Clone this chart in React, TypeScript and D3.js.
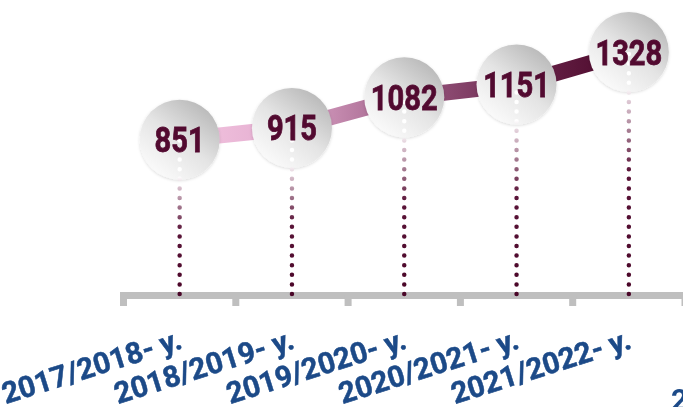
import React from "react";
import * as d3 from "d3";

const categories = ["2017/2018- y.", "2018/2019- y.", "2019/2020- y.", "2020/2021- y.", "2021/2022- y."];
const values = [851, 915, 1082, 1151, 1328];

const W = 683;
const H = 407;

export default function App() {
  const x = d3.scaleBand<string>().domain(categories).range([123.5, 685]).padding(0);
  const y = d3.scaleLinear().domain([0, 1328]).range([296, 52]);
  const r = 40;
  const axisY = 295.5;
  const cx = (c: string) => (x(c) as number) + x.bandwidth() / 2;
  const pts = categories.map((c, i) => [cx(c), y(values[i])] as [number, number]);
  const line = d3.line();
  const boundaries = categories.map((c) => x(c) as number).concat([(x(categories[categories.length - 1]) as number) + x.bandwidth()]);

  return (
    <div style={{ position: "fixed", left: 0, top: 0 }}>
      <svg width={W} height={H} style={{ display: "block" }}>
        <defs>
          <linearGradient id="lineGrad" gradientUnits="userSpaceOnUse" x1={pts[0][0]} y1={0} x2={pts[pts.length - 1][0]} y2={0}>
            <stop offset="0" stopColor="#f4c6e1" />
            <stop offset="0.22" stopColor="#e4aed0" />
            <stop offset="0.5" stopColor="#9e5e86" />
            <stop offset="0.75" stopColor="#6c284e" />
            <stop offset="1" stopColor="#4a0628" />
          </linearGradient>
          <linearGradient id="circGrad" x1="0.85" y1="0.1" x2="0.2" y2="0.95">
            <stop offset="0" stopColor="#b9b9b9" />
            <stop offset="0.5" stopColor="#e4e4e4" />
            <stop offset="1" stopColor="#fbfbfb" />
          </linearGradient>
          <filter id="shadow" x="-30%" y="-30%" width="160%" height="160%">
            <feDropShadow dx="0" dy="1" stdDeviation="1.5" floodColor="#000" floodOpacity="0.15" />
          </filter>
          {pts.map((p, i) => {
            const len = 294 - p[1];
            const w0 = r / len;
            return (
              <linearGradient key={i} id={`dotGrad${i}`} gradientUnits="userSpaceOnUse" x1={0} y1={p[1]} x2={0} y2={294}>
                <stop offset="0" stopColor="#ffffff" />
                <stop offset={w0 - 0.02} stopColor="#ffffff" />
                <stop offset={w0 + 0.04} stopColor="#dcc6d2" />
                <stop offset={Math.min(0.6, w0 + 0.33)} stopColor="#5a1438" />
                <stop offset="1" stopColor="#4a0628" />
              </linearGradient>
            );
          })}
        </defs>

        {/* axis */}
        <rect x={120} y={axisY - 3.5} width={W - 120} height={7} fill="#bfbfbf" />
        {boundaries.map((b, i) => (
          <rect key={i} x={b - 3.5} y={axisY} width={7} height={10.5} fill="#bfbfbf" />
        ))}

        {/* connecting line */}
        <path d={line(pts) as string} fill="none" stroke="url(#lineGrad)" strokeWidth={16} />

        {/* circles */}
        {pts.map((p, i) => (
          <circle key={i} cx={p[0]} cy={p[1]} r={r} fill="url(#circGrad)" filter="url(#shadow)" />
        ))}

        {/* dotted drop lines */}
        {pts.map((p, i) => (
          <line
            key={i}
            x1={p[0]}
            y1={294}
            x2={p[0]}
            y2={p[1]}
            stroke={`url(#dotGrad${i})`}
            strokeWidth={4.5}
            strokeLinecap="round"
            strokeDasharray="0 9.6"
          />
        ))}

        {/* value labels */}
        {pts.map((p, i) => {
          const t = String(values[i]);
          return (
            <text
              key={i}
              x={p[0]}
              y={p[1] + 12.5}
              textAnchor="middle"
              fontFamily="Roboto, sans-serif"
              fontWeight={700}
              fontSize={35}
              fill="#520a30"
              stroke="#520a30"
              strokeWidth={0.8}
              textLength={t.length * 16.7}
              lengthAdjust="spacingAndGlyphs"
            >
              {t}
            </text>
          );
        })}

        {/* category labels */}
        {categories.map((c) => (
          <text
            key={c}
            transform={`translate(${cx(c) + 4},348) rotate(-17.5)`}
            textAnchor="end"
            fontFamily="Roboto, sans-serif"
            fontWeight={700}
            fontSize={29.5}
            fill="#1c4a88"
            stroke="#1c4a88"
            strokeWidth={0.5}
          >
            {c}
          </text>
        ))}
        <text x={671} y={410} fontFamily="Roboto, sans-serif" fontWeight={700} fontSize={29.5} fill="#1c4a88">
          2
        </text>
      </svg>
    </div>
  );
}
